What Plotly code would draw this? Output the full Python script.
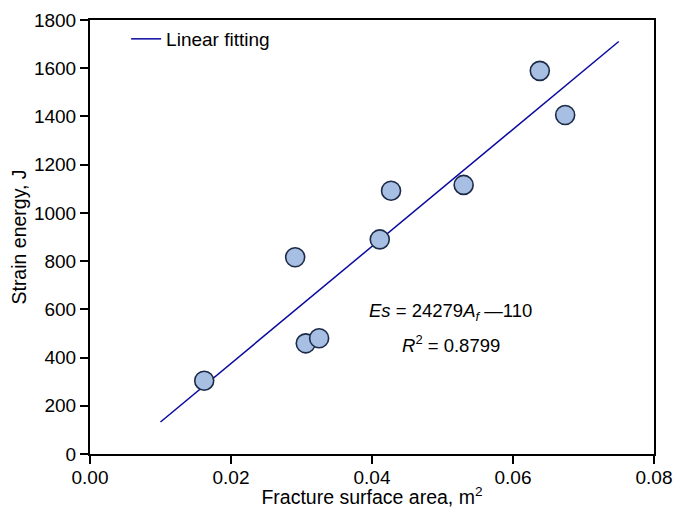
import plotly.graph_objects as go

# Data
fracture_area = [0.0162, 0.0291, 0.0306, 0.0325, 0.0411, 0.0427, 0.0530, 0.0638, 0.0674]
strain_energy = [304, 816, 459, 480, 890, 1092, 1116, 1589, 1406]
fit_x = [0.010, 0.075]
slope = 24279
intercept = -110
fit_y = [slope * x + intercept for x in fit_x]

FONT = "Liberation Sans, Arial, sans-serif"

fig = go.Figure()
fig.add_trace(go.Scatter(
    x=fit_x, y=fit_y, mode="lines", name="Linear fitting",
    line=dict(color="#0A0AA0", width=1.5), showlegend=True))
fig.add_trace(go.Scatter(
    x=fracture_area, y=strain_energy, mode="markers", showlegend=False,
    marker=dict(size=19, color="#A6BFE2", line=dict(color="#1C2A48", width=1.6))))

fig.add_annotation(x=0.0512, y=590, xref="x", yref="y", showarrow=False,
                   text="<i>Es</i> = 24279<i>A</i><sub><i>f</i></sub> —110",
                   font=dict(family=FONT, size=18.5, color="black"))
fig.add_annotation(x=0.0512, y=455, xref="x", yref="y", showarrow=False,
                   text="<i>R</i><sup>2</sup> = 0.8799",
                   font=dict(family=FONT, size=18.5, color="black"))

axis_common = dict(showline=True, linecolor="black", linewidth=2, mirror=True,
                   ticks="outside", ticklen=8, tickwidth=1.8, tickcolor="black",
                   showgrid=False, zeroline=False, automargin=False,
                   tickfont=dict(family=FONT, size=19, color="black"))

fig.update_xaxes(range=[0, 0.08], tickvals=[0, 0.02, 0.04, 0.06, 0.08],
                 tickformat=".2f", ticklabelstandoff=-3,
                 title=dict(text="Fracture surface area, m<sup>2</sup>", standoff=4,
                            font=dict(family=FONT, size=19.5, color="black")),
                 **axis_common)
fig.update_yaxes(range=[0, 1800], tickvals=list(range(0, 1801, 200)),
                 title=dict(text="Strain energy, J", standoff=2,
                            font=dict(family=FONT, size=19.5, color="black")),
                 **axis_common)

fig.update_layout(
    width=675, height=508,
    margin=dict(l=90, r=21, t=20, b=54),
    plot_bgcolor="white", paper_bgcolor="white",
    legend=dict(x=0.064, y=1.0, xanchor="left", yanchor="top",
                bgcolor="rgba(0,0,0,0)", font=dict(family=FONT, size=19, color="black")),
)

fig.write_html("out.html")
